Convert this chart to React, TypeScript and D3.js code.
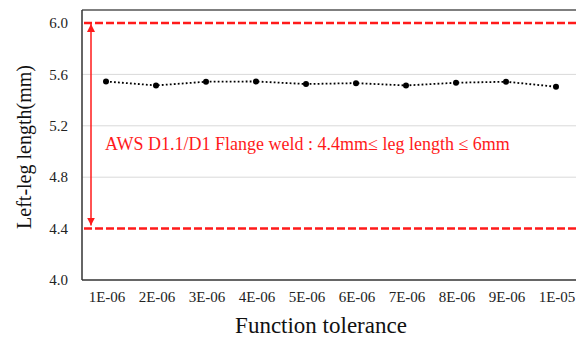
import React from "react";
import * as d3 from "d3";

const categories = ["1E-06", "2E-06", "3E-06", "4E-06", "5E-06", "6E-06", "7E-06", "8E-06", "9E-06", "1E-05"];
const values = [5.545, 5.514, 5.543, 5.545, 5.525, 5.532, 5.514, 5.535, 5.543, 5.504];
const yTicks = [4.0, 4.4, 4.8, 5.2, 5.6, 6.0];
const gridValues = [4.8, 5.2, 5.6];
const limits = [4.4, 6.0];
const annotation = "AWS D1.1/D1 Flange weld : 4.4mm\u2264 leg length \u2264 6mm";
const xTitle = "Function tolerance";
const yTitle = "Left-leg length(mm)";

export default function App() {
  const W = 576, H = 341;
  const left = 82, top = 10, bottom = 280;
  const x = d3.scaleBand<string>().domain(categories).range([81, 581]);
  const y = d3.scaleLinear().domain([4.0, 6.0]).range([bottom, 23]);
  const line = d3.line<number>().x((_, i) => x(categories[i])! + x.bandwidth() / 2).y((d) => y(d));
  const font = "Liberation Serif";
  const red = "#ff1a1a";
  const arrowX = 91;
  return (
    <div style={{ position: "absolute", left: 0, top: 0 }}>
      <svg width={W} height={H} style={{ display: "block", background: "#fff" }}>
        <defs>
          <marker id="ah" viewBox="0 0 10 10" refX="10" refY="5" markerWidth="8" markerHeight="8" orient="auto-start-reverse" markerUnits="userSpaceOnUse">
            <path d="M0,0 L10,5 L0,10 z" fill={red} />
          </marker>
        </defs>
        {gridValues.map((v) => (
          <line key={v} x1={left} x2={W} y1={y(v)} y2={y(v)} stroke="#d9d9d9" strokeWidth={1} />
        ))}
        <line x1={left} x2={W} y1={top} y2={top} stroke="#555" strokeWidth={1.5} />
        <line x1={left} x2={left} y1={top} y2={bottom} stroke="#333" strokeWidth={1.5} />
        <line x1={left} x2={W} y1={bottom} y2={bottom} stroke="#333" strokeWidth={1.5} />
        {limits.map((v) => (
          <line key={v} x1={84} x2={W} y1={y(v)} y2={y(v)} stroke={red} strokeWidth={2.5} strokeDasharray="8,3" />
        ))}
        <line x1={arrowX} x2={arrowX} y1={y(6.0) + 1} y2={y(4.4) - 3} stroke={red} strokeWidth={1.5}
          markerStart="url(#ah)" markerEnd="url(#ah)" />
        <path d={line(values) ?? ""} fill="none" stroke="#000" strokeWidth={1.8} strokeDasharray="1.8,2.2" />
        {values.map((v, i) => (
          <circle key={i} cx={x(categories[i])! + x.bandwidth() / 2} cy={y(v)} r={3} fill="#000" />
        ))}
        {yTicks.map((t) => (
          <text key={t} x={68} y={y(t)} dy="0.35em" textAnchor="end" fontFamily={font} fontSize={15} fill="#222">
            {t.toFixed(1)}
          </text>
        ))}
        {categories.map((c) => (
          <text key={c} x={x(c)! + x.bandwidth() / 2 + 1} y={302} textAnchor="middle" fontFamily={font} fontSize={15} fill="#222">
            {c}
          </text>
        ))}
        <text x={105} y={150} fontFamily={font} fontSize={18} fill={red}>{annotation}</text>
        <text x={321} y={333} textAnchor="middle" fontFamily={font} fontSize={23} fill="#111">{xTitle}</text>
        <text transform={`translate(31,147) rotate(-90)`} textAnchor="middle" fontFamily={font} fontSize={20} fill="#111">
          {yTitle}
        </text>
      </svg>
    </div>
  );
}
